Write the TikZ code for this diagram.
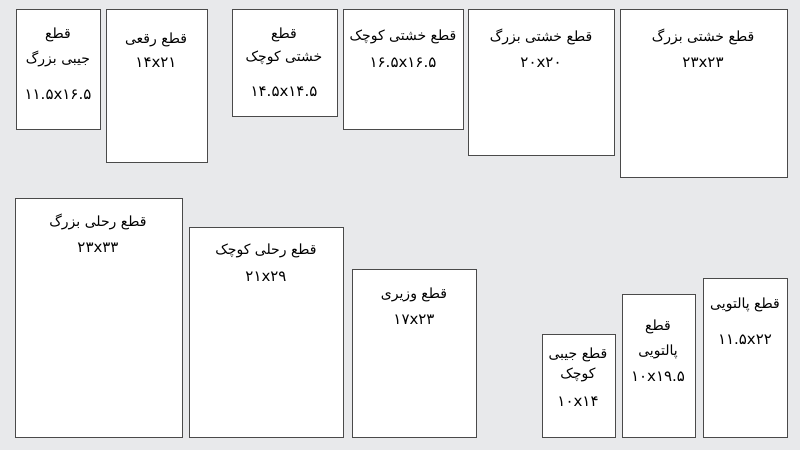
\documentclass[tikz,border=0pt]{standalone}
\usepackage{fontspec}
\newfontfamily\fa[Script=Arabic]{DejaVu Sans}
\TeXXeTstate=1
\definecolor{bg}{HTML}{E8E9EB}
\definecolor{edge}{HTML}{4A4A4A}
\tikzset{
  bookbox/.style={draw=edge, fill=white, line width=1pt, inner sep=0pt, anchor=north west},
  lbl/.style={inner sep=0pt, font=\fa\fontsize{14}{16}\selectfont, text=black},
  num/.style={lbl, font=\fa\fontsize{15}{17}\selectfont},
}
\newcommand{\bookrect}[5]{%
  \pgfmathsetmacro{\bw}{#4-#2}\pgfmathsetmacro{\bh}{#5-#3}%
  \node[bookbox, minimum width=\bw pt, minimum height=\bh pt] (#1) at (#2,#3) {};}
\begin{document}
\begin{tikzpicture}[x=1pt,y=-1pt]
\fill[bg] (0,0) rectangle (800,450);
\useasboundingbox (0,0) rectangle (800,450);
% top row
\bookrect{b1}{16}{9}{100}{129}
\bookrect{b2}{106}{9}{207}{162}
\bookrect{b3}{232}{9}{337}{116}
\bookrect{b4}{343}{9}{463}{129}
\bookrect{b5}{468}{9}{614}{155}
\bookrect{b6}{620}{9}{787}{177}
% bottom row
\bookrect{b7}{15}{198}{182}{437}
\bookrect{b8}{189}{227}{343}{437}
\bookrect{b9}{352}{269}{476}{437}
\bookrect{b10}{542}{334}{615}{437}
\bookrect{b11}{622}{294}{695}{437}
\bookrect{b12}{703}{278}{787}{437}
% labels
\node[lbl] (t1a) at (58,35) {\beginR قطع\endR};
\node[lbl] (t1b) at (58,59) {\beginR جیبی بزرگ\endR};
\node[num] (n1) at (58,95) {۱۱.۵x۱۶.۵};
\node[lbl] (t2) at (156,40) {\beginR قطع رقعی\endR};
\node[num] (n2) at (156,63) {۱۴x۲۱};
\node[lbl] (t3a) at (284,35) {\beginR قطع\endR};
\node[lbl] (t3b) at (284,58) {\beginR خشتی کوچک\endR};
\node[num] (n3) at (284,92) {۱۴.۵x۱۴.۵};
\node[lbl] (t4) at (403,37) {\beginR قطع خشتی کوچک\endR};
\node[num] (n4) at (403,63) {۱۶.۵x۱۶.۵};
\node[lbl] (t5) at (541,37) {\beginR قطع خشتی بزرگ\endR};
\node[num] (n5) at (541,63) {۲۰x۲۰};
\node[lbl] (t6) at (703,37) {\beginR قطع خشتی بزرگ\endR};
\node[num] (n6) at (703,63) {۲۳x۲۳};
\node[lbl] (t7) at (98,222) {\beginR قطع رحلی بزرگ\endR};
\node[num] (n7) at (98,248) {۲۳x۳۳};
\node[lbl] (t8) at (266,251) {\beginR قطع رحلی کوچک\endR};
\node[num] (n8) at (266,277) {۲۱x۲۹};
\node[lbl] (t9) at (414,295) {\beginR قطع وزیری\endR};
\node[num] (n9) at (414,320) {۱۷x۲۳};
\node[lbl] (t10a) at (578,355) {\beginR قطع جیبی\endR};
\node[lbl] (t10b) at (578,375) {\beginR کوچک\endR};
\node[num] (n10) at (578,402) {۱۰x۱۴};
\node[lbl] (t11a) at (658,327) {\beginR قطع\endR};
\node[lbl] (t11b) at (658,352) {\beginR پالتویی\endR};
\node[num] (n11) at (658,377) {۱۰x۱۹.۵};
\node[lbl] (t12) at (745,305) {\beginR قطع پالتویی\endR};
\node[num] (n12) at (745,340) {۱۱.۵x۲۲};
\end{tikzpicture}
\end{document}
